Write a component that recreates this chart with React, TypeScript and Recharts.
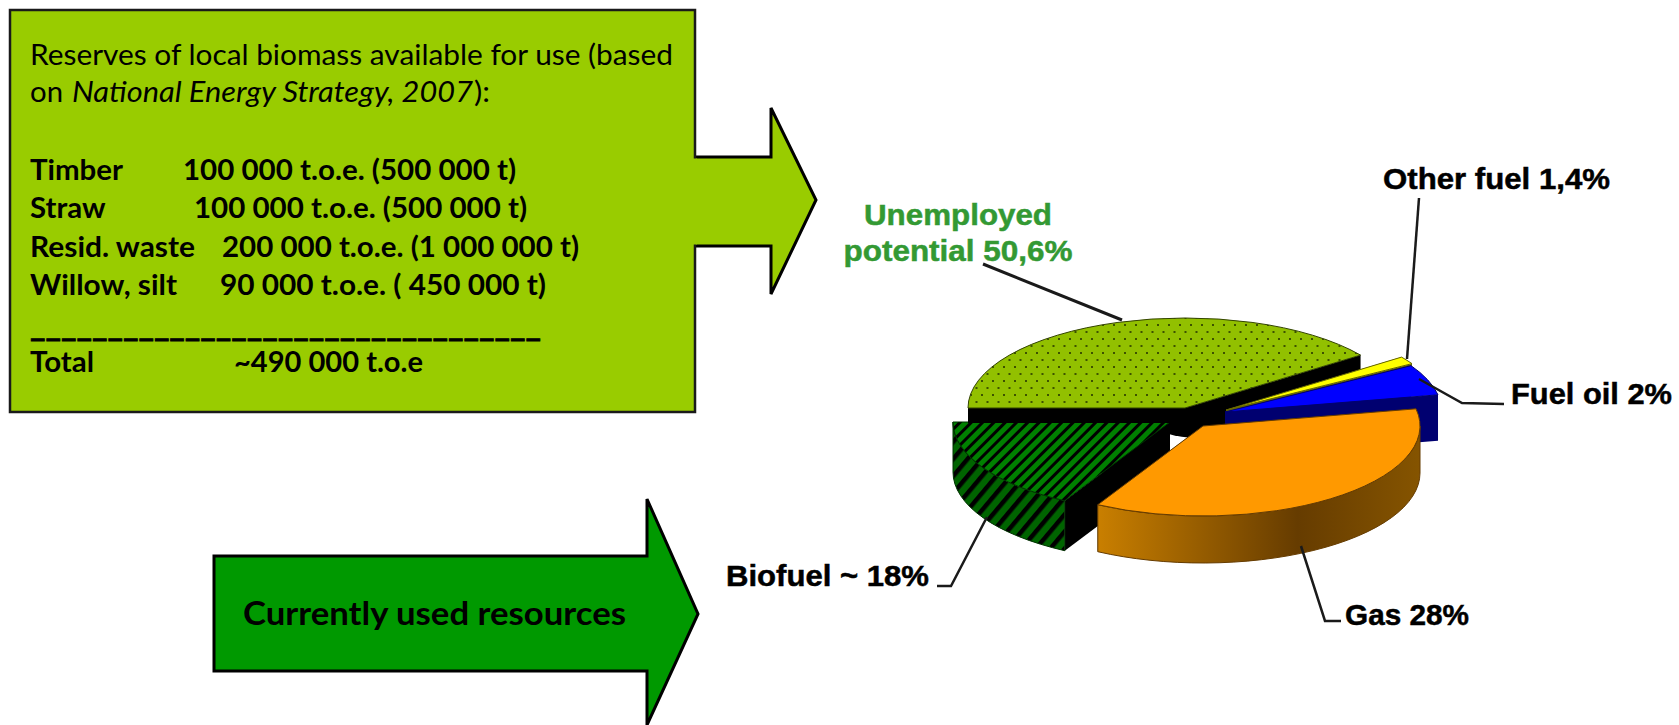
import { PieChart, Pie } from "recharts";

// chart values
const sliceNames = ["Biofuel", "Unemployed potential", "Other fuel", "Fuel oil", "Gas"];
const sliceValues = [18, 50.6, 1.4, 2, 28];
const sliceLabels = [["Biofuel ~ 18%"], ["Unemployed", "potential 50,6%"], ["Other fuel 1,4%"], ["Fuel oil 2%"], ["Gas 28%"]];

// per slice look: explode offset, extrusion depth, colours
const sliceDx = [-15, 0, 41, 40, 18];
const sliceDy = [14, 0, 2, 4, 18];
const sliceDepth = [50, 15, 4, 46, 47];
const sliceTop = ["url(#stripesTop)", "url(#dots)", "#ffff00", "#0000ff", "#ff9900"];
const sliceWall = ["url(#stripesWall)", "#000000", "#666600", "#000070", "url(#gasWall)"];
const sliceFace = ["#000000", "#000000", "#666600", "#000070", "#000000"];
const sliceEdge = ["#003300", "#334400", "#666600", "#000070", "#663c00"];

const labelColors = ["#000", "#339933", "#000", "#000", "#000"];
const labelAnchors = ["start", "middle", "start", "start", "start"];
const labelX = [726, 958, 1383, 1511, 1345];
const labelY = [586, 225, 189, 404, 625];
const labelWidths = [[203], [188, 229], [227], [161], [124]];
const leaders = [
  "937,586 951,586 987,517",
  "983,264 1122,320",
  "1419,198 1407,359",
  "1504,404 1462,403 1419,379",
  "1341,621 1325,621 1301,546",
];

// the 3D pie squeezes the far slices and stretches the near ones
const dataAngles = [180, -2.16, -7.2, -14.4, -115.2, -180];
const shownAngles = [180, 36, 31, 11, -119, -180];
const TILT = 90 / 217;

const warp = (angle: number) => {
  let a = angle;
  while (a > 180.001) a -= 360;
  while (a < -180.001) a += 360;
  for (let i = 0; i < dataAngles.length - 1; i++) {
    if (a <= dataAngles[i] + 0.001 && a >= dataAngles[i + 1] - 0.001) {
      const t = (dataAngles[i] - a) / (dataAngles[i] - dataAngles[i + 1]);
      return shownAngles[i] + t * (shownAngles[i + 1] - shownAngles[i]);
    }
  }
  return a;
};

function Slice3D(props: any) {
  const { cx, cy, outerRadius, startAngle, endAngle, index } = props;
  const ox = cx + sliceDx[index];
  const oy = cy + sliceDy[index];
  const rx = outerRadius;
  const ry = outerRadius * TILT;
  const depth = sliceDepth[index];
  const pt = (deg: number, d = 0) => {
    const r = (deg * Math.PI) / 180;
    return `${ox + rx * Math.cos(r)} ${oy - ry * Math.sin(r) + d}`;
  };
  let a0 = warp(startAngle);
  let a1 = warp(endAngle);
  // left edge of the pie sits on the -180/180 seam
  if (index === 0) a1 = -180;
  if (index === 1) a0 = 180;
  const large = Math.abs(a0 - a1) > 180 ? 1 : 0;
  const top = `M ${ox} ${oy} L ${pt(a0)} A ${rx} ${ry} 0 ${large} 1 ${pt(a1)} Z`;
  const face = (a: number) => `M ${ox} ${oy} L ${pt(a)} L ${pt(a, depth)} L ${ox} ${oy + depth} Z`;

  // the rim is only seen on the near half
  const w0 = Math.min(a0, 0);
  const w1 = Math.max(a1, -180);
  const hasWall = w0 > w1 && a1 < 0;
  const wall = hasWall
    ? `M ${pt(w0)} A ${rx} ${ry} 0 0 1 ${pt(w1)} L ${pt(w1, depth)} A ${rx} ${ry} 0 0 0 ${pt(w0, depth)} Z`
    : "";

  return (
    <g>
      {index === 0 && <ellipse cx={cx + 15} cy={cy + 14} rx={48} ry={16} fill="#000" />}
      <path d={face(a0)} fill={sliceFace[index]} />
      <path d={face(a1)} fill={sliceFace[index]} />
      {hasWall && <path d={wall} fill={sliceWall[index]} stroke={sliceEdge[index]} strokeWidth={1} />}
      <path d={top} fill={sliceTop[index]} stroke={sliceEdge[index]} strokeWidth={1} />
    </g>
  );
}

function SliceLabel(props: any) {
  const { index } = props;
  const lines = sliceLabels[index];
  return (
    <g>
      <polyline points={leaders[index]} fill="none" stroke="#1a1a1a" strokeWidth={index === 1 ? 3 : 2.5} />
      {lines.map((line, i) => (
        <text
          key={line}
          x={labelX[index]}
          y={labelY[index] + i * 36}
          textAnchor={labelAnchors[index] as any}
          fontFamily="Liberation Sans"
          fontWeight="bold"
          fontSize={30}
          textLength={labelWidths[index][i]}
          lengthAdjust="spacingAndGlyphs"
          fill={labelColors[index]}
          stroke={labelColors[index]}
          strokeWidth={0.5}
        >
          {line}
        </text>
      ))}
    </g>
  );
}

const pieData = sliceNames.map((name, i) => ({ name, value: sliceValues[i] }));

// reserves table in the box
const reserveNames = ["Timber", "Straw", "Resid. waste", "Willow, silt"];
const reserveAmounts = ["100 000 t.o.e. (500 000 t)", "100 000 t.o.e. (500 000 t)", "200 000 t.o.e. (1 000 000 t)", "90 000 t.o.e. ( 450 000 t)"];
const nameWidths = [93, 75.5, 165, 147];
const amountStart = [183, 194, 222, 220];
const amountWidths = [333, 333, 357, 326];
const rowBaselines = [180, 218, 257, 295];

const FONT = "Lato";

function LeftSide() {
  return (
    <svg width={1679} height={725} style={{ position: "absolute", left: 0, top: 0 }}>
      <path
        d="M 690 157 H 771 V 108 L 816 200 L 771 294 V 246 H 690 Z"
        fill="#99cc00"
        stroke="#000"
        strokeWidth={3}
      />
      <rect x={10} y={10} width={685} height={402} fill="#99cc00" stroke="#1a1a1a" strokeWidth={2.5} />
      <rect x={690} y={158.5} width={7} height={86} fill="#99cc00" />
      <g fontFamily={FONT} fontSize={28} fill="#000">
        <text x={30} y={65} textLength={643} lengthAdjust="spacingAndGlyphs">
          Reserves of local biomass available for use (based
        </text>
        <text x={30} y={102} textLength={33} lengthAdjust="spacingAndGlyphs">on</text>
        <text x={72} y={102} fontStyle="italic" textLength={401} lengthAdjust="spacingAndGlyphs">
          National Energy Strategy, 2007
        </text>
        <text x={474} y={102} textLength={16} lengthAdjust="spacingAndGlyphs">):</text>
        <g fontWeight="bold">
          {reserveNames.map((name, i) => (
            <text key={name} x={30} y={rowBaselines[i]} textLength={nameWidths[i]} lengthAdjust="spacingAndGlyphs">
              {name}
            </text>
          ))}
          {reserveAmounts.map((amount, i) => (
            <text key={i} x={amountStart[i]} y={rowBaselines[i]} textLength={amountWidths[i]} lengthAdjust="spacingAndGlyphs">
              {amount}
            </text>
          ))}
          <text x={30} y={337} textLength={511} lengthAdjust="spacingAndGlyphs" stroke="#000" strokeWidth={0.8}>
            _________________________________
          </text>
          <text x={30} y={372} textLength={64} lengthAdjust="spacingAndGlyphs">Total</text>
          <text x={234} y={372} textLength={189} lengthAdjust="spacingAndGlyphs">~490 000 t.o.e</text>
        </g>
      </g>
      <path
        d="M 214 556 H 647 V 499 L 698 614 L 647 725 V 671 H 214 Z"
        fill="#009900"
        stroke="#000"
        strokeWidth={3}
      />
      <text x={243} y={625} fontFamily={FONT} fontWeight="bold" fontSize={33} textLength={383} lengthAdjust="spacingAndGlyphs" fill="#000">
        Currently used resources
      </text>
    </svg>
  );
}

export default function App() {
  return (
    <div style={{ position: "absolute", left: 0, top: 0, width: 1679, height: 725, background: "#fff" }}>
      <LeftSide />
      <div style={{ position: "absolute", left: 0, top: 0 }}>
        <PieChart width={1679} height={725} margin={{ top: 0, right: 0, bottom: 0, left: 0 }}>
          <defs>
            <pattern id="dots" width={11} height={14} patternUnits="userSpaceOnUse">
              <rect width={11} height={14} fill="#92c000" />
              <rect x={2} y={2} width={2} height={2} fill="#3d5200" />
              <rect x={7.5} y={9} width={2} height={2} fill="#3d5200" />
            </pattern>
            <pattern id="stripesTop" width={8} height={8} patternUnits="userSpaceOnUse" patternTransform="rotate(-45)">
              <rect width={8} height={8} fill="#008000" />
              <rect width={8} height={3} fill="#000" />
            </pattern>
            <pattern id="stripesWall" width={11} height={11} patternUnits="userSpaceOnUse" patternTransform="rotate(-50)">
              <rect width={11} height={11} fill="#006400" />
              <rect width={11} height={4.5} fill="#000" />
            </pattern>
            <linearGradient id="gasWall" x1="0" y1="0" x2="1" y2="0">
              <stop offset="0" stopColor="#c97f00" />
              <stop offset="0.62" stopColor="#663c00" />
              <stop offset="1" stopColor="#855400" />
            </linearGradient>
          </defs>
          <Pie
            data={pieData}
            dataKey="value"
            nameKey="name"
            cx={1185}
            cy={408}
            innerRadius={0}
            outerRadius={217}
            startAngle={-115.2}
            endAngle={-475.2}
            stroke="none"
            paddingAngle={0}
            shape={Slice3D}
            label={SliceLabel}
            labelLine={false}
            isAnimationActive={false}
          />
        </PieChart>
      </div>
    </div>
  );
}
